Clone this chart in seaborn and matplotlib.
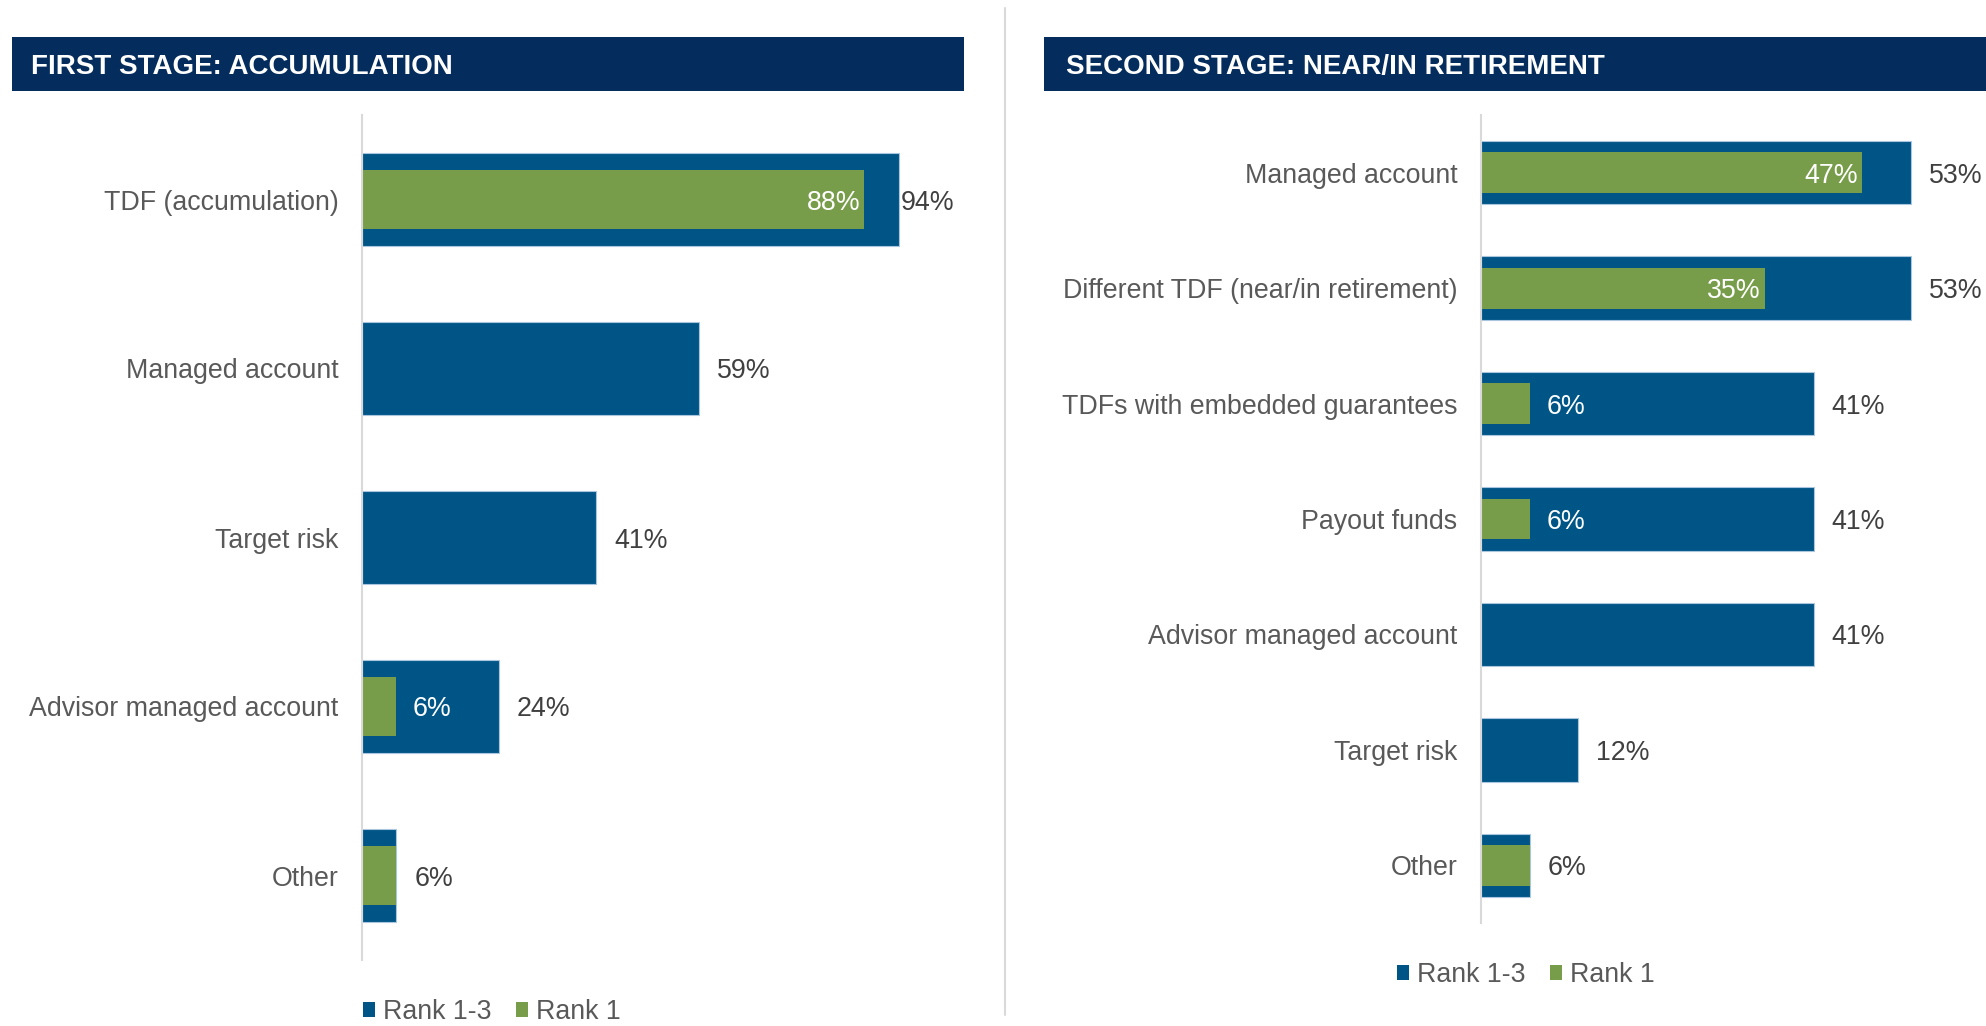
import matplotlib
matplotlib.use("Agg")
import matplotlib.pyplot as plt
from matplotlib.patches import Rectangle, Patch
from matplotlib.lines import Line2D
import seaborn as sns
import pandas as pd

# ---------------- data ----------------
stage1_title = "FIRST STAGE: ACCUMULATION"
stage1_categories = ["TDF (accumulation)", "Managed account", "Target risk",
                     "Advisor managed account", "Other"]
stage1_rank13 = [94, 59, 41, 24, 6]
stage1_rank1 = [88, 0, 0, 6, 6]

stage2_title = "SECOND STAGE: NEAR/IN RETIREMENT"
stage2_categories = ["Managed account", "Different TDF (near/in retirement)",
                     "TDFs with embedded guarantees", "Payout funds",
                     "Advisor managed account", "Target risk", "Other"]
stage2_rank13 = [53, 53, 41, 41, 41, 12, 6]
stage2_rank1 = [47, 35, 6, 6, 0, 0, 6]

series_names = ["Rank 1-3", "Rank 1"]

# ---------------- style ----------------
BLUE = "#005587"
GREEN = "#789D4A"
NAVY = "#042C5C"
CAT_COLOR = "#595959"
VAL_COLOR = "#404040"
GRID = "#D9D9D9"
FS = 19.3

sns.set_theme(style="white")
plt.rcParams["font.family"] = ["Liberation Sans", "DejaVu Sans"]

W, H = 1986, 1026
fig = plt.figure(figsize=(W / 100, H / 100), dpi=100)


def fx(px):
    return px / W


def fy(py):
    return 1 - py / H


def panel(rect, cats, r13, r1, xmax, legend_xy):
    ax = fig.add_axes(rect)
    df = pd.DataFrame({"cat": cats, "r13": r13, "r1": r1})
    sns.barplot(data=df, y="cat", x="r13", order=cats, color=BLUE, width=0.55,
                saturation=1, ax=ax, edgecolor="#A9C6DE", linewidth=0.8)
    sns.barplot(data=df, y="cat", x="r1", order=cats, color=GREEN, width=0.355,
                saturation=1, ax=ax, edgecolor="none", linewidth=0)
    n = len(cats)
    ax.set_xlim(0, xmax)
    ax.set_ylim(n - 0.5, -0.5)
    ax.set_xlabel("")
    ax.set_ylabel("")
    ax.set_xticks([])
    for s in ["top", "right", "bottom"]:
        ax.spines[s].set_visible(False)
    ax.spines["left"].set_color(GRID)
    ax.spines["left"].set_linewidth(1.5)
    ax.tick_params(axis="y", length=0, pad=17, labelsize=FS, labelcolor=CAT_COLOR)
    ax.grid(False)

    for i, (a, b) in enumerate(zip(r13, r1)):
        pad_pts = 1.5 if a / xmax > 0.9 else 13
        ax.annotate(f"{a}%", (a, i), xytext=(pad_pts, 0), textcoords="offset points",
                    ha="left", va="center_baseline", fontsize=FS, color=VAL_COLOR)
        if 0 < b < a:
            if b >= 20:
                ax.annotate(f"{b}%", (b, i), xytext=(-3, 0), textcoords="offset points",
                            ha="right", va="center_baseline", fontsize=FS, color="white")
            else:
                ax.annotate(f"{b}%", (b, i), xytext=(12, 0), textcoords="offset points",
                            ha="left", va="center_baseline", fontsize=FS, color="white")

    handles = [Patch(facecolor=BLUE, edgecolor="none"),
               Patch(facecolor=GREEN, edgecolor="none")]
    fig.legend(handles, series_names, loc="center left",
               bbox_to_anchor=(fx(legend_xy[0]), fy(legend_xy[1])),
               bbox_transform=fig.transFigure, frameon=False, ncol=2,
               fontsize=FS, labelcolor=CAT_COLOR, handlelength=0.45,
               handleheight=0.45, handletextpad=0.3, columnspacing=0.9,
               borderpad=0, borderaxespad=0)
    return ax


# left panel: axis at x=362, y 115..960, 100% at x=933
panel([fx(362), fy(960), fx(933 - 362), (960 - 115) / H],
      stage1_categories, stage1_rank13, stage1_rank1, 100, (363, 1012))
# right panel: axis at x=1481, y 115..923, 60% at x=1968
panel([fx(1481), fy(923), fx(1968 - 1481), (923 - 115) / H],
      stage2_categories, stage2_rank13, stage2_rank1, 60, (1397, 975))

# header bars
for x0, x1, tx, title in [(12, 964, 31, stage1_title), (1044, 1986, 1066, stage2_title)]:
    fig.patches.append(Rectangle((fx(x0), fy(91)), fx(x1 - x0), (91 - 37) / H,
                                 transform=fig.transFigure, facecolor=NAVY,
                                 edgecolor="none", zorder=0))
    fig.text(fx(tx), fy(64), title, ha="left", va="center_baseline", fontsize=20,
             fontweight="bold", color="white")

# divider
fig.lines.append(Line2D([fx(1005), fx(1005)], [fy(8), fy(1015)], transform=fig.transFigure,
                        color=GRID, linewidth=1.5))

fig.savefig("out.png", dpi=100)
